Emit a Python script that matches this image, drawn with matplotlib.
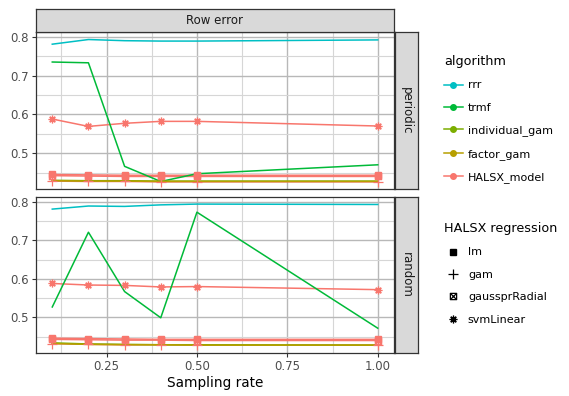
import matplotlib
matplotlib.use("Agg")
import matplotlib.pyplot as plt
from matplotlib.lines import Line2D
from matplotlib.path import Path
from matplotlib.ticker import FixedLocator

# ---- data ----
rates = [0.1, 0.2, 0.3, 0.4, 0.5, 1.0]
facets = ["periodic", "random"]

algorithms = ["rrr", "trmf", "individual_gam", "factor_gam", "HALSX_model"]
algo_colors = ["#00BFC4", "#00BA38", "#7CAE00", "#B79F00", "#F8766D"]

rrr = {"periodic": [0.781, 0.793, 0.790, 0.789, 0.789, 0.792],
       "random":   [0.781, 0.789, 0.788, 0.792, 0.794, 0.793]}
trmf = {"periodic": [0.735, 0.733, 0.466, 0.427, 0.447, 0.470],
        "random":   [0.527, 0.721, 0.567, 0.499, 0.773, 0.472]}
individual_gam = {"periodic": [0.430, 0.429, 0.429, 0.428, 0.428, 0.428],
                  "random":   [0.434, 0.431, 0.430, 0.429, 0.429, 0.428]}
factor_gam = {"periodic": [0.429, 0.428, 0.428, 0.427, 0.427, 0.427],
              "random":   [0.432, 0.430, 0.429, 0.429, 0.428, 0.428]}

regressions = ["lm", "gam", "gaussprRadial", "svmLinear"]
halsx = {
    "periodic": {"lm":            [0.445, 0.444, 0.443, 0.443, 0.443, 0.443],
                 "gam":           [0.428, 0.427, 0.427, 0.426, 0.426, 0.426],
                 "gaussprRadial": [0.442, 0.441, 0.440, 0.440, 0.440, 0.440],
                 "svmLinear":     [0.588, 0.569, 0.577, 0.582, 0.582, 0.570]},
    "random":   {"lm":            [0.446, 0.445, 0.444, 0.443, 0.443, 0.443],
                 "gam":           [0.432, 0.430, 0.429, 0.429, 0.428, 0.428],
                 "gaussprRadial": [0.443, 0.442, 0.441, 0.441, 0.440, 0.440],
                 "svmLinear":     [0.588, 0.584, 0.583, 0.579, 0.580, 0.572]},
}

# square with a cross (R shape 7)
boxx = Path([(-1, -1), (1, -1), (1, 1), (-1, 1), (-1, -1), (-1, -1), (1, 1), (-1, 1), (1, -1)],
            [Path.MOVETO, Path.LINETO, Path.LINETO, Path.LINETO, Path.CLOSEPOLY,
             Path.MOVETO, Path.LINETO, Path.MOVETO, Path.LINETO])
reg_markers = {"lm": "s", "gam": "+", "gaussprRadial": boxx, "svmLinear": (8, 2, 0)}
reg_sizes = {"lm": 4.2, "gam": 6.5, "gaussprRadial": 4.5, "svmLinear": 5.5}

W, H = 569, 396
fig = plt.figure(figsize=(W / 100, H / 100), dpi=100)


def rect(x0, y0, x1, y1):
    return [x0 / W, 1 - y1 / H, (x1 - x0) / W, (y1 - y0) / H]


panels = [(32, 189), (197, 353)]
allvals = []
for d in (rrr, trmf, individual_gam, factor_gam):
    for f in facets:
        allvals += d[f]
for f in facets:
    for r in regressions:
        allvals += halsx[f][r]
ylo, yhi = min(allvals), max(allvals)
ypad = 0.05 * (yhi - ylo)
xpad = 0.05 * (max(rates) - min(rates))

edge = "#333333"
for i, f in enumerate(facets):
    y0, y1 = panels[i]
    ax = fig.add_axes(rect(36, y0, 394, y1))
    ax.set_xlim(min(rates) - xpad, max(rates) + xpad)
    ax.set_ylim(ylo - ypad, yhi + ypad)
    ax.xaxis.set_major_locator(FixedLocator([0.25, 0.5, 0.75, 1.0]))
    ax.xaxis.set_minor_locator(FixedLocator([0.125, 0.375, 0.625, 0.875]))
    ax.yaxis.set_major_locator(FixedLocator([0.5, 0.6, 0.7, 0.8]))
    ax.yaxis.set_minor_locator(FixedLocator([0.45, 0.55, 0.65, 0.75]))
    ax.grid(which="major", color="#b8b8b8", lw=1.0)
    ax.grid(which="minor", color="#d6d6d6", lw=0.8)
    ax.set_axisbelow(True)
    ax.tick_params(which="minor", length=0)
    ax.tick_params(which="major", length=3, color=edge, labelsize=8.5, labelcolor="#4d4d4d", pad=2)
    for s in ax.spines.values():
        s.set_color(edge)
        s.set_linewidth(0.9)
    if i == 0:
        ax.tick_params(axis="x", labelbottom=False, length=0)
    else:
        ax.set_xticklabels(["0.25", "0.50", "0.75", "1.00"])
        ax.set_xlabel("Sampling rate", fontsize=9.8, labelpad=2)

    # HALSX lines and points
    for r in regressions:
        vals = halsx[f][r]
        ax.plot(rates, vals, color=algo_colors[4], lw=1.1, zorder=2)
        m = reg_markers[r]
        if r == "lm":
            ax.plot(rates, vals, ls="none", marker=m, ms=reg_sizes[r], color=algo_colors[4], zorder=4)
        else:
            ax.plot(rates, vals, ls="none", marker=m, ms=reg_sizes[r], mfc="none",
                    mec=algo_colors[4], mew=0.9, zorder=4)
    for name, d, c in zip(algorithms[:4], (rrr, trmf, individual_gam, factor_gam), algo_colors[:4]):
        ax.plot(rates, d[f], color=c, lw=1.1, zorder=3)

    # right strip
    sx = fig.add_axes(rect(395, y0, 418, y1))
    sx.set_facecolor("#d9d9d9")
    sx.set_xticks([])
    sx.set_yticks([])
    for s in sx.spines.values():
        s.set_color(edge)
        s.set_linewidth(0.9)
    sx.text(0.5, 0.5, f, rotation=-90, ha="center", va="center", fontsize=8.5,
            color="#1a1a1a", transform=sx.transAxes)

# top strip
st = fig.add_axes(rect(36, 9, 394, 32))
st.set_facecolor("#d9d9d9")
st.set_xticks([])
st.set_yticks([])
for s in st.spines.values():
    s.set_color(edge)
    s.set_linewidth(0.9)
st.text(0.5, 0.5, "Row error", ha="center", va="center", fontsize=8.5, color="#1a1a1a",
        transform=st.transAxes)

# legends
algo_handles = [Line2D([], [], color=c, lw=1.1, marker="o", ms=4) for c in algo_colors]
leg1 = fig.legend(algo_handles, algorithms, title="algorithm", loc="upper left",
                  bbox_to_anchor=(434 / W, 1 - 45 / H), frameon=False, fontsize=8,
                  title_fontsize=9.2, handlelength=1.7, labelspacing=1.12, handletextpad=0.45)
leg1._legend_box.align = "left"

reg_handles = []
for r in regressions:
    if r == "lm":
        reg_handles.append(Line2D([], [], ls="none", marker="s", ms=4, color="black"))
    else:
        reg_handles.append(Line2D([], [], ls="none", marker=reg_markers[r], ms=reg_sizes[r],
                                  mfc="none", mec="black", mew=0.9))
leg2 = fig.legend(reg_handles, regressions, title="HALSX regression", loc="upper left",
                  bbox_to_anchor=(434 / W, 1 - 212 / H), frameon=False, fontsize=8,
                  title_fontsize=9.2, handlelength=1.7, labelspacing=1.12, handletextpad=0.45)
leg2._legend_box.align = "left"

fig.savefig("out.png", dpi=100)
